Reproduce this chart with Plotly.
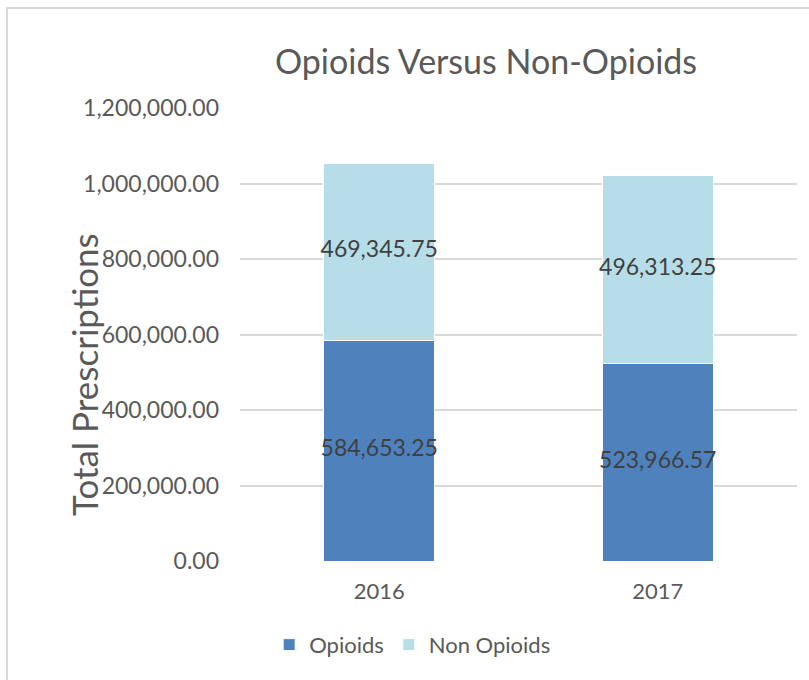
import plotly.graph_objects as go

years = ["2016", "2017"]
opioids = [584653.25, 523966.57]
non_opioids = [469345.75, 496313.25]
series_names = ["Opioids", "Non Opioids"]
title_text = "Opioids Versus Non-Opioids"
y_title = "Total Prescriptions"

FONT = "Lato"
GRAY = "#595959"
DARK = "#404040"

fig = go.Figure()
fig.add_trace(go.Bar(
    x=years, y=opioids, name=series_names[0],
    marker=dict(color="#4F81BD", line=dict(color="white", width=1)),
    textposition="none",
))
fig.add_trace(go.Bar(
    x=years, y=non_opioids, name=series_names[1],
    marker=dict(color="#B7DEE8", line=dict(color="white", width=1)),
    textposition="none",
))

# data labels centred in each segment
mid_op = [v / 2 for v in opioids]
mid_non = [o + n / 2 for o, n in zip(opioids, non_opioids)]
for mids, vals in ((mid_op, opioids), (mid_non, non_opioids)):
    fig.add_trace(go.Scatter(
        x=years, y=mids, mode="text", text=[f"{v:,.2f}" for v in vals],
        textposition="middle center", showlegend=False, hoverinfo="skip",
        textfont=dict(family=FONT, size=23, color=DARK), cliponaxis=False,
    ))

fig.update_layout(
    width=809, height=680,
    barmode="stack", bargap=0.6,
    paper_bgcolor="white", plot_bgcolor="white",
    margin=dict(l=240, r=12, t=108, b=119),
    font=dict(family=FONT, color=GRAY, size=22),
    title=dict(text=title_text, x=486/809, xanchor="center", xref="container",
               y=1-62/680, yanchor="middle", yref="container",
               font=dict(family=FONT, size=34, color=GRAY)),
    legend=dict(orientation="h", x=0.31, xanchor="center", y=-0.185, yanchor="middle",
                font=dict(family=FONT, size=22, color=GRAY), traceorder="normal",
                itemwidth=30),
    showlegend=True,
)
fig.update_yaxes(
    range=[0, 1200000], dtick=200000, tickformat=",.2f",
    showgrid=True, gridcolor="#D9D9D9", gridwidth=1.6, zeroline=False,
    showline=False, ticks="", ticklabelstandoff=20,
    tickfont=dict(family=FONT, size=23, color=GRAY),
)
fig.update_xaxes(
    showgrid=False, showline=False, ticks="", ticklabelstandoff=15,
    tickfont=dict(family=FONT, size=22, color=GRAY),
)
fig.add_annotation(
    text=y_title, xref="paper", yref="paper", x=(84-240)/557, y=(561-375)/453,
    xanchor="center", yanchor="middle", textangle=-90, showarrow=False,
    font=dict(family=FONT, size=35, color=GRAY),
)
fig.add_shape(
    type="rect", xref="paper", yref="paper",
    x0=(7-240)/557, x1=1.2, y0=-0.5, y1=(561-8)/453,
    line=dict(color="#D9D9D9", width=2), fillcolor="rgba(0,0,0,0)", layer="below",
)

fig.write_html("out.html", config={"displayModeBar": False},
               post_script="document.body.style.margin='0';")
